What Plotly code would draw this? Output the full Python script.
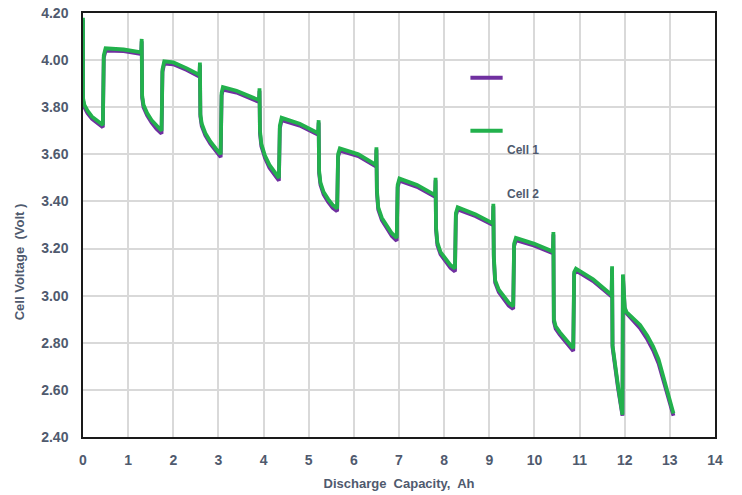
import plotly.graph_objects as go

# Discharge capacity (Ah) shared by both cells
capacity = [
    0.00, 0.00, 0.03, 0.10, 0.20, 0.32, 0.44,
    0.46, 0.50, 0.90, 1.29,
    1.30, 1.31, 1.34, 1.42, 1.52, 1.63, 1.74,
    1.76, 1.80, 2.00, 2.30, 2.58,
    2.59, 2.60, 2.63, 2.71, 2.82, 2.94, 3.05,
    3.07, 3.10, 3.40, 3.90,
    3.91, 3.92, 3.95, 4.03, 4.13, 4.24, 4.34,
    4.36, 4.40, 4.80, 5.21,
    5.22, 5.23, 5.26, 5.33, 5.43, 5.53, 5.63,
    5.65, 5.69, 6.10, 6.49,
    6.50, 6.51, 6.54, 6.62, 6.73, 6.84, 6.95,
    6.97, 7.01, 7.40, 7.80,
    7.81, 7.82, 7.85, 7.92, 8.03, 8.14, 8.24,
    8.26, 8.30, 8.70, 9.08,
    9.09, 9.10, 9.13, 9.21, 9.32, 9.43, 9.53,
    9.55, 9.59, 10.00, 10.41,
    10.42, 10.43, 10.47, 10.56, 10.67, 10.77, 10.86,
    10.88, 10.92, 11.30, 11.71,
    11.72, 11.73, 11.85, 11.95,
    11.96, 12.00, 12.04, 12.20, 12.34, 12.50, 12.63, 12.75, 12.86, 12.97, 13.08,
]

cell2_v = [
    4.18, 3.84, 3.81, 3.785, 3.76, 3.74, 3.725,
    4.02, 4.05, 4.045, 4.033,
    4.09, 3.85, 3.81, 3.775, 3.745, 3.72, 3.70,
    3.96, 3.995, 3.99, 3.965, 3.937,
    3.99, 3.77, 3.73, 3.69, 3.655, 3.625, 3.60,
    3.86, 3.885, 3.87, 3.83,
    3.88, 3.70, 3.645, 3.595, 3.555, 3.525, 3.50,
    3.72, 3.755, 3.73, 3.69,
    3.745, 3.53, 3.48, 3.44, 3.41, 3.385, 3.37,
    3.60, 3.625, 3.60, 3.555,
    3.63, 3.45, 3.375, 3.33, 3.295, 3.265, 3.245,
    3.47, 3.497, 3.47, 3.427,
    3.50, 3.29, 3.225, 3.185, 3.155, 3.13, 3.115,
    3.35, 3.375, 3.345, 3.307,
    3.39, 3.17, 3.065, 3.025, 2.995, 2.97, 2.955,
    3.22, 3.245, 3.22, 3.187,
    3.27, 2.90, 2.87, 2.845, 2.82, 2.795, 2.777,
    3.10, 3.115, 3.07, 3.003,
    3.125, 2.79, 2.62, 2.495,
    3.09, 2.95, 2.93, 2.90, 2.876, 2.83, 2.784, 2.73, 2.656, 2.58, 2.50,
]

cell1_v = [
    4.17, 3.83, 3.80, 3.775, 3.75, 3.73, 3.715,
    4.01, 4.04, 4.038, 4.026,
    4.08, 3.84, 3.80, 3.765, 3.735, 3.708, 3.688,
    3.95, 3.985, 3.982, 3.958, 3.930,
    3.98, 3.76, 3.72, 3.68, 3.645, 3.613, 3.588,
    3.85, 3.875, 3.862, 3.822,
    3.87, 3.69, 3.635, 3.585, 3.543, 3.512, 3.488,
    3.71, 3.745, 3.722, 3.683,
    3.735, 3.52, 3.47, 3.43, 3.398, 3.373, 3.358,
    3.59, 3.615, 3.592, 3.548,
    3.62, 3.44, 3.365, 3.32, 3.283, 3.253, 3.233,
    3.46, 3.488, 3.462, 3.420,
    3.49, 3.28, 3.215, 3.175, 3.143, 3.118, 3.103,
    3.34, 3.366, 3.337, 3.300,
    3.38, 3.16, 3.055, 3.015, 2.983, 2.958, 2.943,
    3.21, 3.236, 3.212, 3.180,
    3.26, 2.89, 2.86, 2.835, 2.808, 2.783, 2.765,
    3.09, 3.106, 3.062, 2.996,
    3.115, 2.78, 2.61, 2.49,
    3.08, 2.945, 2.925, 2.89, 2.862, 2.815, 2.768, 2.712, 2.638, 2.565, 2.49,
]

series_names = ["Cell 1", "Cell 2"]
series_colors = ["#7030a0", "#22b14c"]

x_ticks = list(range(0, 15))
y_ticks = [2.4, 2.6, 2.8, 3.0, 3.2, 3.4, 3.6, 3.8, 4.0, 4.2]
y_tick_text = ["%.2f" % v for v in y_ticks]

text_color = "#4f5a6e"
font_family = "Liberation Sans, Arial, sans-serif"

fig = go.Figure()
fig.add_trace(go.Scatter(x=capacity, y=cell1_v, mode="lines", name=series_names[0],
                         line=dict(color=series_colors[0], width=3.8), showlegend=False))
fig.add_trace(go.Scatter(x=capacity, y=cell2_v, mode="lines", name=series_names[1],
                         line=dict(color=series_colors[1], width=3.8), showlegend=False))

# Custom legend (line samples and labels offset like the original)
fig.add_shape(type="line", xref="paper", yref="paper", x0=0.613, x1=0.664, y0=0.847, y1=0.847,
              line=dict(color=series_colors[0], width=4))
fig.add_shape(type="line", xref="paper", yref="paper", x0=0.613, x1=0.664, y0=0.722, y1=0.722,
              line=dict(color=series_colors[1], width=4))
fig.add_annotation(xref="paper", yref="paper", x=0.667, y=0.677, xanchor="left", yanchor="middle",
                   text="<b>" + series_names[0] + "</b>", showarrow=False,
                   font=dict(size=12, color=text_color, family=font_family))
fig.add_annotation(xref="paper", yref="paper", x=0.667, y=0.572, xanchor="left", yanchor="middle",
                   text="<b>" + series_names[1] + "</b>", showarrow=False,
                   font=dict(size=12, color=text_color, family=font_family))

# Y-axis title (placed lower than centre, as in the original)
fig.add_annotation(xref="paper", yref="paper", x=-0.1, y=0.414, xanchor="center", yanchor="middle",
                   text="<b>Cell Voltage  (Volt )</b>", textangle=-90, showarrow=False,
                   font=dict(size=13, color=text_color, family=font_family))

fig.update_layout(
    width=742, height=495,
    margin=dict(l=83, r=27, t=13, b=58),
    paper_bgcolor="white", plot_bgcolor="white",
    font=dict(family=font_family, color=text_color),
    xaxis=dict(
        range=[0, 14], tickvals=x_ticks, ticktext=[str(t) for t in x_ticks],
        showgrid=True, gridcolor="#d9d9d9", gridwidth=1.5,
        showline=True, linecolor="#1a1a1a", linewidth=2, mirror=True,
        ticks="outside", ticklen=9, tickcolor="rgba(0,0,0,0)",
        tickfont=dict(size=14, color=text_color, weight="bold"),
        title=dict(text="Discharge  Capacity,  Ah", standoff=12,
                   font=dict(size=13, color=text_color, weight="bold")),
        zeroline=False, automargin=False,
    ),
    yaxis=dict(
        range=[2.4, 4.2], tickvals=y_ticks, ticktext=y_tick_text,
        showgrid=True, gridcolor="#d9d9d9", gridwidth=1.5,
        showline=True, linecolor="#1a1a1a", linewidth=1.5, mirror=True,
        ticks="outside", ticklen=10, tickcolor="rgba(0,0,0,0)",
        tickfont=dict(size=14, color=text_color, weight="bold"),
        zeroline=False, automargin=False,
    ),
)

fig.write_html("out.html", config={"displayModeBar": False},
               post_script="document.body.style.margin='0px';")
